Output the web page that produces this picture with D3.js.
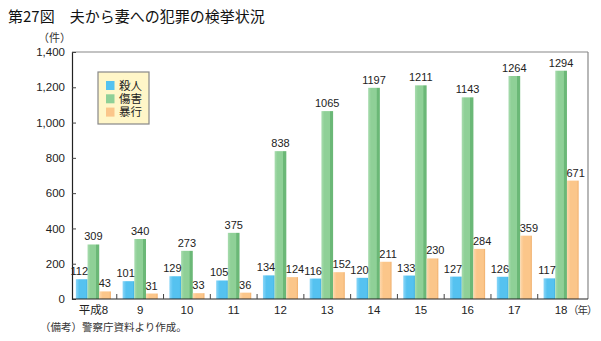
<!DOCTYPE html>
<html><head><meta charset="utf-8">
<script src="https://cdn.jsdelivr.net/npm/d3@7"></script>
<style>body{margin:0;background:#fff}svg{display:block}</style>
</head><body><svg id="c" width="601" height="341"></svg>
<script>
const categories = ["平成8","9","10","11","12","13","14","15","16","17","18"];
const seriesNames = ["殺人","傷害","暴行"];
const murder = [112,101,129,105,134,116,120,133,127,126,117];
const injury = [309,340,273,375,838,1065,1197,1211,1143,1264,1294];
const assault = [43,31,33,36,124,152,211,230,284,359,671];
const yTicks = [0,200,400,600,800,1000,1200,1400];
const colors = ["#55c2f0","#8fd097","#fbc68a"];
const darks = ["#3fb0e0","#6bb877","#f0ae6a"];
const lights = ["#8ad6f8","#a9dcaf","#fdd8ad"];

const svg = d3.select("#c");
const L=72, R=588, T=52, B=299;
const x = d3.scaleBand().domain(categories).range([70,584.5]).paddingInner(0).paddingOuter(0);
const y = d3.scaleLinear().domain([0,1400]).range([B,T]);
const sx = d3.scaleBand().domain(seriesNames).range([0,x.bandwidth()]).paddingInner(0).paddingOuter(0.5);

const defs = svg.append("defs");
seriesNames.forEach((s,i)=>{
  const g = defs.append("linearGradient").attr("id","g"+i).attr("x1","0").attr("x2","1").attr("y1","0").attr("y2","0");
  if(i===1){
    g.append("stop").attr("offset","0").attr("stop-color",lights[i]);
    g.append("stop").attr("offset","0.25").attr("stop-color",colors[i]);
    g.append("stop").attr("offset","0.7").attr("stop-color",colors[i]);
    g.append("stop").attr("offset","0.75").attr("stop-color",darks[i]);
    g.append("stop").attr("offset","1").attr("stop-color",darks[i]);
  } else {
    g.append("stop").attr("offset","0").attr("stop-color",lights[i]);
    g.append("stop").attr("offset","0.3").attr("stop-color",colors[i]);
    g.append("stop").attr("offset","0.85").attr("stop-color",colors[i]);
    g.append("stop").attr("offset","1").attr("stop-color",darks[i]);
  }
});

const font = "'Liberation Sans', Arial, 'Noto Sans CJK JP', sans-serif";
const jfont = "'Noto Sans CJK JP', sans-serif";

// Title
svg.append("text").attr("x",8).attr("y",22).attr("font-family",jfont).attr("font-size",15).attr("font-weight",400).attr("fill","#111")
  .text("第27図　夫から妻への犯罪の検挙状況");

// frame top & right
svg.append("line").attr("x1",L).attr("x2",R).attr("y1",T).attr("y2",T).attr("stroke","#888").attr("stroke-width",1.2);
svg.append("line").attr("x1",R).attr("x2",R).attr("y1",T).attr("y2",B).attr("stroke","#888").attr("stroke-width",1.2);

// y axis
const yAxis = d3.axisLeft(y).tickValues(yTicks).tickSize(-4).tickPadding(7).tickFormat(d3.format(","));
const ya = svg.append("g").attr("transform",`translate(${L},0)`).call(yAxis);
ya.select(".domain").attr("stroke","#222").attr("stroke-width",1.2);
ya.selectAll(".tick line").attr("stroke","#444");
ya.selectAll("text").attr("font-family",font).attr("font-size",11.5).attr("fill","#222");

// bars
const data = categories.map((c,i)=>({c, v:[murder[i],injury[i],assault[i]]}));
const grp = svg.append("g").selectAll("g").data(data).join("g").attr("transform",d=>`translate(${x(d.c)},0)`);
grp.selectAll("rect").data(d=>d.v.map((v,i)=>({v,s:seriesNames[i],i}))).join("rect")
  .attr("x",d=>sx(d.s)).attr("width",sx.bandwidth())
  .attr("y",d=>y(d.v)).attr("height",d=>B-y(d.v))
  .attr("fill",d=>`url(#g${d.i})`);
grp.selectAll("text").data(d=>d.v.map((v,i)=>({v,s:seriesNames[i],i}))).join("text")
  .attr("x",d=>d.i===0 ? sx(d.s)+sx.bandwidth()+0.5 : d.i===2 ? sx(d.s)-0.5 : sx(d.s)+sx.bandwidth()/2)
  .attr("y",d=>y(d.v)-4)
  .attr("text-anchor",d=>d.i===0?"end":d.i===2?"start":"middle")
  .attr("font-family",font).attr("font-size",11).attr("fill","#222").text(d=>d.v);

// x axis labels
svg.append("g").selectAll("text").data(categories).join("text")
  .attr("x",d=>x(d)+x.bandwidth()/2).attr("y",B+15).attr("text-anchor","middle")
  .attr("font-family",font).attr("font-size",11.5).attr("fill","#222").text(d=>d);
svg.append("line").attr("x1",L).attr("x2",R).attr("y1",B).attr("y2",B).attr("stroke","#222").attr("stroke-width",1.2);
// separator ticks
svg.append("g").selectAll("line").data(categories.slice(1)).join("line")
  .attr("x1",d=>x(d)).attr("x2",d=>x(d)).attr("y1",B-5).attr("y2",B).attr("stroke","#444");

// unit labels
svg.append("text").attr("x",38).attr("y",42).attr("font-family",font).attr("font-size",11).attr("fill","#333").text("（件）");
svg.append("text").attr("x",568).attr("y",314).attr("font-family",font).attr("font-size",10.5).attr("letter-spacing",-1).attr("fill","#333").text("（年）");

// legend
const lg = svg.append("g").attr("transform","translate(98,72)");
lg.append("rect").attr("width",51).attr("height",52).attr("fill","#fff6c8").attr("stroke","#888").attr("stroke-width",1.2);
seriesNames.forEach((s,i)=>{
  lg.append("rect").attr("x",8).attr("y",9+i*13.3).attr("width",8.5).attr("height",9).attr("fill",colors[i]);
  lg.append("text").attr("x",21).attr("y",17.5+i*13.3).attr("font-family",font).attr("font-size",11.5).attr("fill","#222").text(s);
});

// footnote
svg.append("text").attr("x",40).attr("y",331).attr("font-family",jfont).attr("font-size",10.5).attr("fill","#333").text("（備考）警察庁資料より作成。");
</script></body></html>
